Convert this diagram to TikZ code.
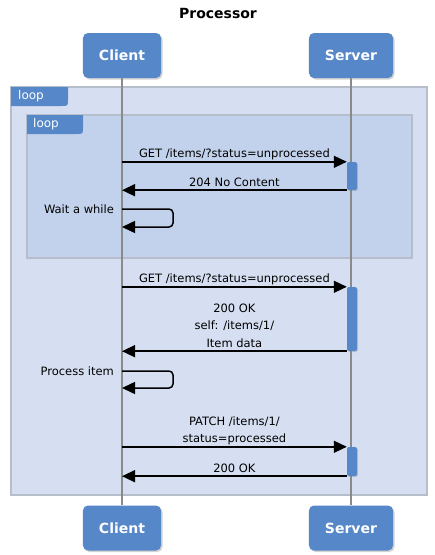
\documentclass[tikz,border=0pt]{standalone}
\usepackage{fontspec}
\setmainfont{DejaVu Sans}
\usetikzlibrary{arrows.meta,positioning,shadows}
\definecolor{boxblue}{HTML}{5687C9}
\definecolor{outerfill}{HTML}{D6DFF1}
\definecolor{innerfill}{HTML}{C3D2EC}
\definecolor{framegray}{HTML}{B6BECC}
\definecolor{lifegray}{HTML}{8A8A8A}

\begin{document}
\begin{tikzpicture}[x=1pt,y=-1pt,
  actor/.style={fill=boxblue,rounded corners=5pt,text=white,font=\fontsize{14}{16}\selectfont\bfseries,inner xsep=16pt,minimum height=45pt,drop shadow={shadow xshift=1.5pt,shadow yshift=-1.5pt,opacity=.35}},
  actbar/.style={fill=boxblue,rounded corners=2pt,minimum width=10pt,inner sep=0pt,drop shadow={shadow xshift=1pt,shadow yshift=-1pt,opacity=.3}},
  lifeline/.style={draw=lifegray,line width=1.2pt},
  frame/.style={draw=framegray,line width=1.5pt},
  tablbl/.style={text=white,font=\fontsize{12}{14}\selectfont,inner sep=0pt,anchor=west},
  msg/.style={line width=1.5pt,-{Triangle[length=13pt,width=12pt]}},
  lbl/.style={font=\fontsize{11.5}{17.5}\selectfont,align=center,text depth=0pt}]
\useasboundingbox (0,0) rectangle (435,555);
\node[font=\fontsize{14}{16}\selectfont\bfseries] (title) at (218,13) {Processor};
\node[actor] (clientTop) at (122,55.5) {Client};
\node[actor] (serverTop) at (351,55.5) {Server};
\node[actor] (clientBot) at (122,528) {Client};
\node[actor] (serverBot) at (351,528) {Server};

\draw[frame,fill=outerfill] (11,87) rectangle (427,495);
\fill[boxblue] (11,87) -- (68,87) -- (68,99) .. controls (68,106) .. (61,106) -- (11,106) -- cycle;
\node[tablbl] (outerLoop) at (18,96.5) {loop};
\draw[frame,fill=innerfill] (27,115) rectangle (412,258);
\fill[boxblue] (27,115) -- (83,115) -- (83,127) .. controls (83,134) .. (76,134) -- (27,134) -- cycle;
\node[tablbl] (innerLoop) at (33,124.5) {loop};

\draw[lifeline] (clientTop.south) -- (clientBot.north);
\draw[lifeline] (serverTop.south) -- (serverBot.north);

\node[actbar,minimum height=28pt] (act1) at (352,176) {};
\node[actbar,minimum height=64pt] (act2) at (352,319) {};
\node[actbar,minimum height=29pt] (act3) at (352,461.5) {};

\coordinate (wait) at (122,209);
\coordinate (proc) at (122,371);

\draw[msg] (clientTop |- act1.north) -- node[lbl,above] {GET /items/?status=unprocessed} (act1.north west);
\draw[msg] (act1.south west) -- node[lbl,above] {204 No Content} (clientTop |- act1.south);
\draw[msg,rounded corners=4pt] (wait) node[lbl,left=4pt] {Wait a while} -- ++(51,0) -- ++(0,18) -- ++(-51,0);
\draw[msg] (clientTop |- act2.north) -- node[lbl,above] {GET /items/?status=unprocessed} (act2.north west);
\draw[msg] (act2.south west) -- node[lbl,above] {200 OK\\self: /items/1/\\Item data} (clientTop |- act2.south);
\draw[msg,rounded corners=4pt] (proc) node[lbl,left=4pt] {Process item} -- ++(51,0) -- ++(0,17) -- ++(-51,0);
\draw[msg] (clientTop |- act3.north) -- node[lbl,above] {PATCH /items/1/\\status=processed} (act3.north west);
\draw[msg] (act3.south west) -- node[lbl,above] {200 OK} (clientTop |- act3.south);
\end{tikzpicture}
\end{document}
